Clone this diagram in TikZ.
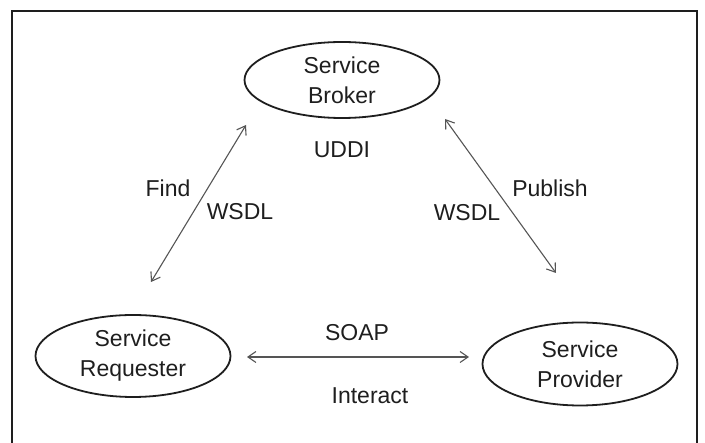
\documentclass[tikz,border=0pt]{standalone}
\usepackage{fontspec}
\setmainfont{Liberation Sans}
\usetikzlibrary{shapes.geometric,arrows.meta}
\definecolor{inkgray}{HTML}{1E1E1E}
\definecolor{arrowgray}{HTML}{555555}
\begin{document}
\begin{tikzpicture}[x=1pt,y=-1pt,
  role/.style={ellipse,draw=inkgray,line width=1.8pt,minimum width=195pt,
    minimum height=80pt,inner sep=0pt,align=center,text=inkgray,
    font=\fontsize{23}{30}\selectfont},
  lbl/.style={text=inkgray,inner sep=0pt,font=\fontsize{23}{28}\selectfont},
  link/.style={draw=arrowgray,line width=1.1pt,
    {Straight Barb[length=8pt,width=11pt]}-{Straight Barb[length=8pt,width=11pt]}}]
  \useasboundingbox (0,0) rectangle (705,443);
  % frame, open at the bottom
  \draw[inkgray,line width=1.8pt] (12,443) -- (12,11) -- (697,11) -- (697,443);

  % roles
  \node[role,minimum height=76pt] (broker) at (342,80) {Service\\Broker};
  \node[role,minimum height=82pt] (req) at (133,356) {Service\\Requester};
  \node[role,minimum height=83pt] (prov) at (580,364) {Service\\Provider};

  % arrow ends
  \coordinate (findA) at (151,282);
  \coordinate (findB) at (246,125);
  \coordinate (pubA) at (445,119);
  \coordinate (pubB) at (556,273);
  \coordinate (soapA) at (247,357);
  \coordinate (soapB) at (469,357);

  \draw[link] (findA) -- (findB);
  \draw[link] (pubA) -- (pubB);
  \draw[link] (soapA) -- (soapB);

  % labels
  \node[lbl] (uddi) at (342,150) {UDDI};
  \node[lbl] (find) at (168,188) {Find};
  \node[lbl] (wsdlL) at (240,212) {WSDL};
  \node[lbl] (publish) at (550,188) {Publish};
  \node[lbl] (wsdlR) at (467,213) {WSDL};
  \node[lbl] (soap) at (357,333) {SOAP};
  \node[lbl] (interact) at (370,396) {Interact};
\end{tikzpicture}
\end{document}
